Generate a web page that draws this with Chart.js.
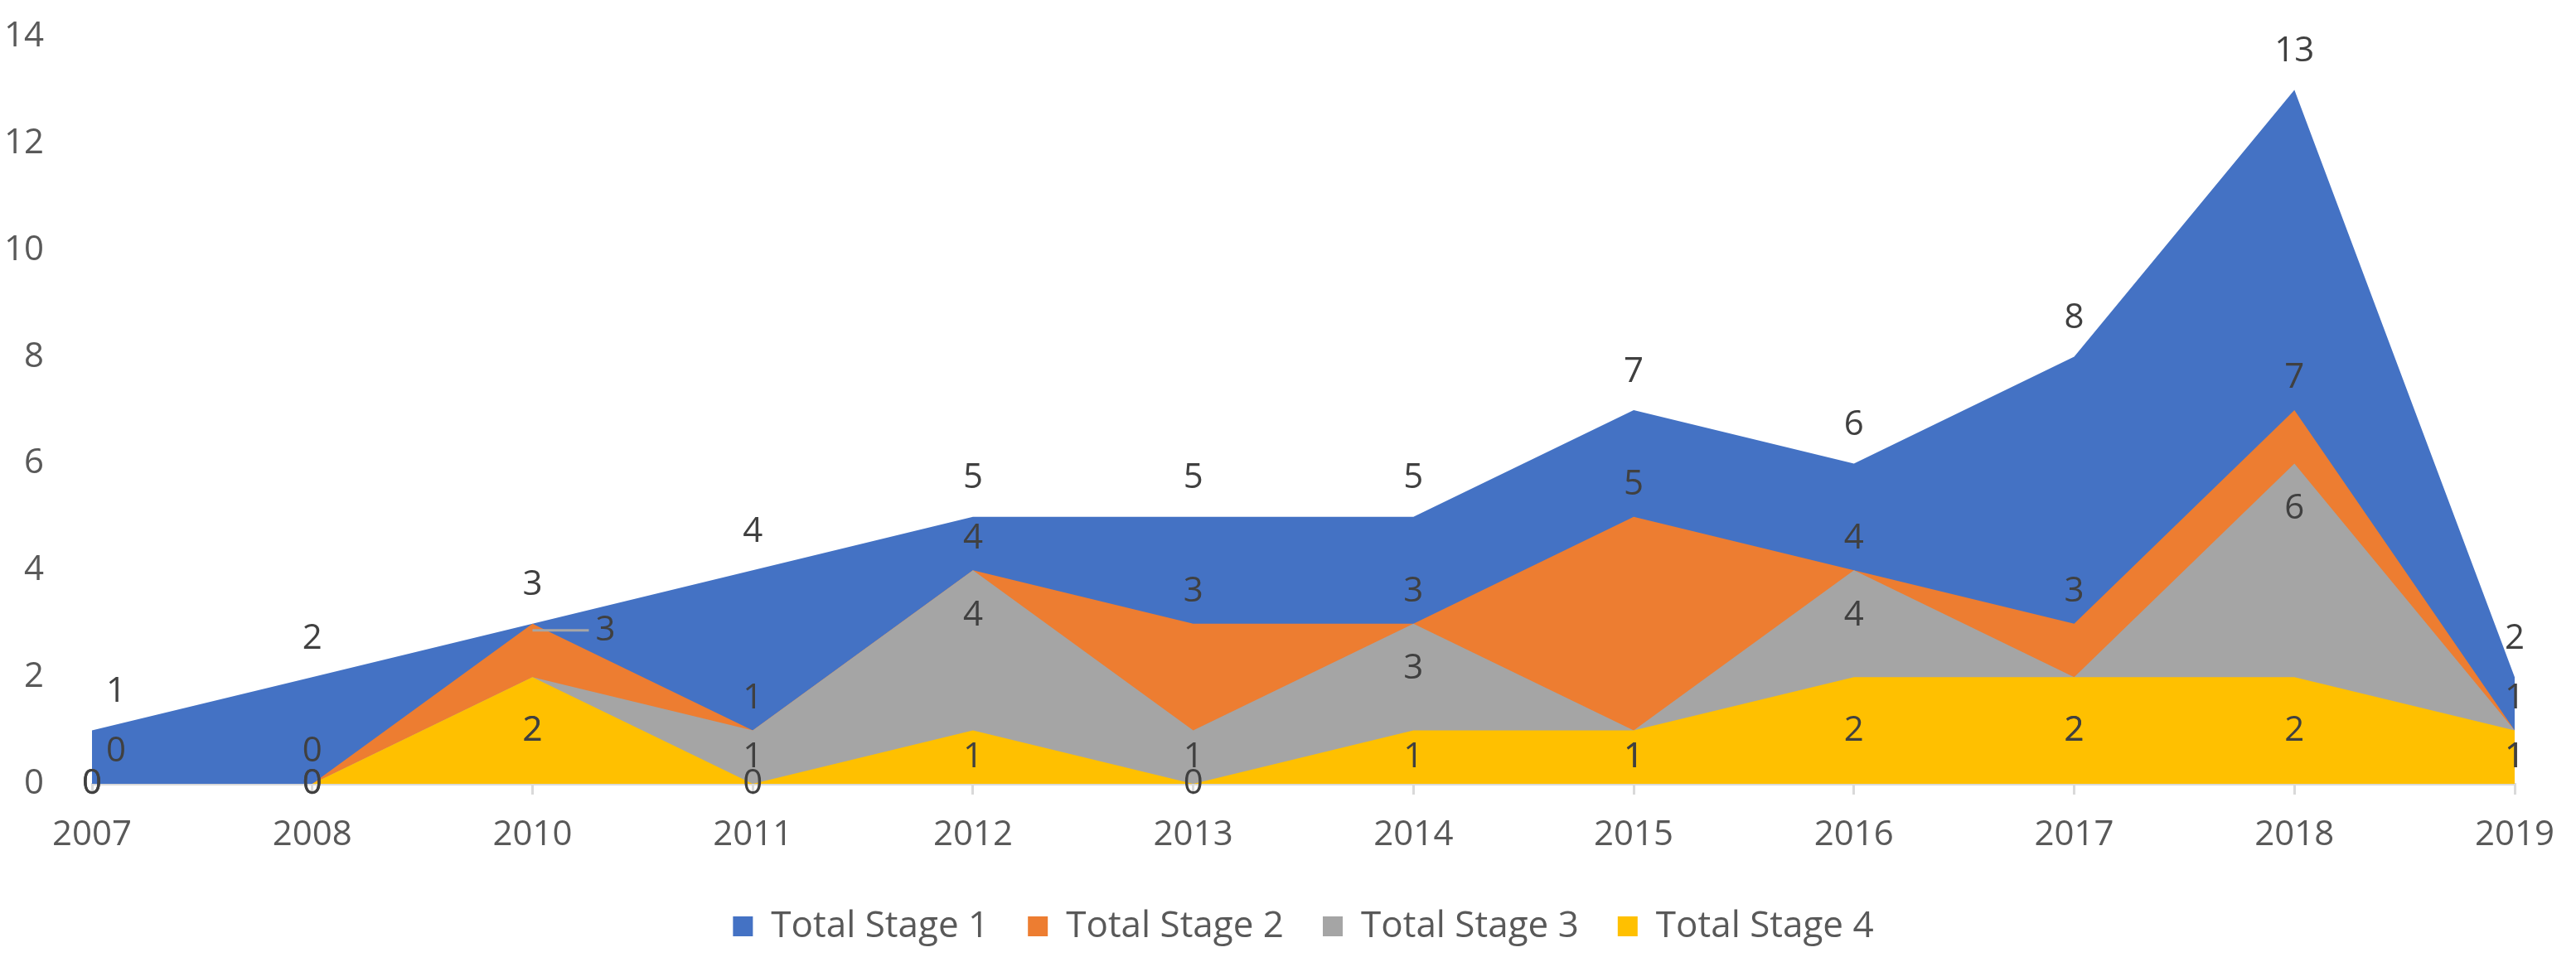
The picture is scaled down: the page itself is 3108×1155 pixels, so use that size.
<!DOCTYPE html>
<html><head><meta charset="utf-8">
<script src="https://cdn.jsdelivr.net/npm/chart.js@4.4.1/dist/chart.umd.min.js"></script>
<style>html,body{margin:0;padding:0;background:#fff;} #wrap{width:3108px;height:1155px;position:relative;background:#fff;}</style>
</head><body><div id="wrap"><canvas id="c"></canvas></div>
<script>
const years = ['2007','2008','2010','2011','2012','2013','2014','2015','2016','2017','2018','2019'];
const stage1 = [1,2,3,4,5,5,5,7,6,8,13,2];
const stage2 = [0,0,3,1,4,3,3,5,4,3,7,1];
const stage3 = [0,0,2,1,4,1,3,1,4,2,6,1];
const stage4 = [0,0,2,0,1,0,1,1,2,2,2,1];
const seriesNames = ['Total Stage 1','Total Stage 2','Total Stage 3','Total Stage 4'];
const seriesColors = ['#4472C4','#ED7D31','#A5A5A5','#FFC000'];
const yTicks = [0,2,4,6,8,10,12,14];

const FONT = '"Open Sans", "Liberation Sans", sans-serif';
const FS = 42;
const LEGEND_FS = 44;

// where each series' value label sits (in value units), mimicking Excel's placement
function labelValue(di, v) {
  if (di === 0) return v + 0.72;
  if (di === 1) return v + 0.6;
  if (di === 2) return v <= 2 ? v / 2 : v - 0.85;
  return v / 2;
}

const dataLabels = {
  id: 'dataLabels',
  afterDatasetsDraw(chart) {
    const ctx = chart.ctx;
    const ys = chart.scales.y;
    const area = chart.chartArea;
    ctx.save();
    ctx.font = FS + 'px ' + FONT;
    ctx.textAlign = 'center';
    ctx.textBaseline = 'middle';
    const placed = [];
    chart.data.datasets.forEach((ds, di) => {
      const meta = chart.getDatasetMeta(di);
      meta.data.forEach((pt, i) => {
        const v = ds.data[i];
        const txt = String(v);
        const w = ctx.measureText(txt).width;
        const lv = labelValue(di, v);
        let y = ys.getPixelForValue(lv);
        let x = pt.x;
        if (lv > 0.3 && x - w / 2 < area.left) x = area.left + w / 2 + 17;
        const clash = placed.some(p => Math.abs(p.x - x) < (p.w + w) / 2 && Math.abs(p.y - y) < 30 &&
          !(p.txt === txt && Math.abs(p.y - y) < 2));
        if (clash) {
          x = pt.x + 88;
          y = pt.y + 8;
          ctx.strokeStyle = '#A6A6A6';
          ctx.lineWidth = 3;
          ctx.beginPath();
          ctx.moveTo(pt.x, y);
          ctx.lineTo(x - w / 2 - 8, y);
          ctx.stroke();
        }
        placed.push({ x, y, w, txt });
        ctx.fillStyle = '#404040';
        ctx.fillText(txt, x, y);
      });
    });
    ctx.restore();
  }
};

const allSeries = [stage1, stage2, stage3, stage4];
const datasets = allSeries.map((d, i) => ({
  label: seriesNames[i],
  data: d,
  backgroundColor: seriesColors[i],
  borderColor: seriesColors[i],
  borderWidth: 0,
  pointRadius: 0,
  pointHoverRadius: 0,
  tension: 0,
  fill: 'origin',
  order: 4 - i
}));

new Chart(document.getElementById('c'), {
  type: 'line',
  data: { labels: years, datasets },
  options: {
    responsive: true,
    maintainAspectRatio: false,
    devicePixelRatio: 1,
    animation: false,
    events: [],
    layout: { padding: { top: 44, right: 74, bottom: 5, left: 0 } },
    plugins: {
      tooltip: { enabled: false },
      legend: {
        position: 'bottom',
        fullSize: false,
        labels: {
          boxWidth: 24,
          boxHeight: 24,
          padding: 47,
          color: '#595959',
          font: { family: FONT, size: LEGEND_FS },
          sort: (a, b) => a.datasetIndex - b.datasetIndex
        }
      }
    },
    scales: {
      x: {
        offset: false,
        grid: { display: true, drawOnChartArea: false, drawTicks: true, tickLength: 13, color: '#D9D9D9', lineWidth: 3 },
        border: { display: true, color: '#D9D9D9', width: 3 },
        ticks: { color: '#595959', font: { family: FONT, size: FS }, padding: 24, maxRotation: 0, autoSkip: false },
        afterFit: s => { s.height = 103; }
      },
      y: {
        min: 0, max: 14,
        grid: { display: false },
        border: { display: false },
        ticks: { color: '#595959', font: { family: FONT, size: FS }, padding: 50 },
        afterBuildTicks: s => { s.ticks = yTicks.map(v => ({ value: v })); },
        afterFit: s => { s.width = 111; s.paddingTop = 0; s.paddingBottom = 0; }
      }
    }
  },
  plugins: [dataLabels]
});
</script>
</body></html>
